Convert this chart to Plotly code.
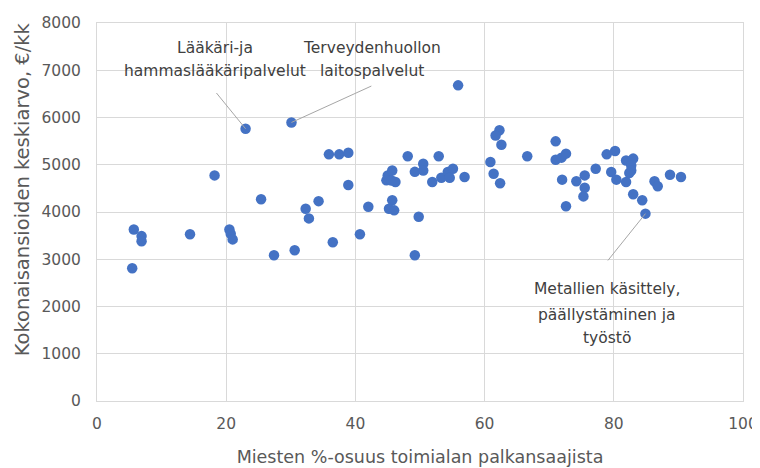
import plotly.graph_objects as go

# Miesten %-osuus toimialan palkansaajista
share_men = [5.7, 6.9, 6.9, 5.45, 14.4, 18.2, 20.5, 20.7, 21.0, 23.0,
             25.4, 27.4, 30.1, 30.6, 32.3, 32.8, 34.3, 35.9, 37.5, 38.9,
             36.5, 38.9, 40.7, 42.0, 45.0, 45.7, 44.8, 45.6, 46.2, 45.7,
             45.2, 46.0, 48.1, 49.2, 50.5, 50.5, 49.8, 49.2, 51.9, 52.9,
             53.3, 54.3, 55.1, 54.6, 56.9, 55.9, 62.3, 61.7, 62.6, 60.9,
             61.4, 62.4, 66.6, 71.0, 71.0, 71.9, 72.6, 72.0, 74.2, 75.5,
             75.5, 75.3, 72.6, 77.2, 78.9, 80.2, 79.6, 80.4, 81.9, 81.9,
             83.0, 82.7, 82.7, 82.4, 83.0, 84.4, 84.9, 86.3, 86.8, 88.7,
             90.4]
# Kokonaisansioiden keskiarvo, €/kk
earnings = [3630, 3490, 3380, 2810, 3530, 4775, 3630, 3540, 3420, 5762,
            4270, 3085, 5895, 3190, 4070, 3865, 4230, 5220, 5220, 5255,
            3360, 4570, 3530, 4110, 4775, 4880, 4670, 4665, 4635, 4250,
            4070, 4035, 5180, 4850, 5020, 4880, 3900, 3085, 4635, 5180,
            4725, 4845, 4915, 4725, 4740, 6680, 5730, 5620, 5425, 5060,
            4810, 4610, 5180, 5495, 5105, 5150, 5235, 4685, 4650, 4775,
            4515, 4330, 4120, 4915, 5220, 5290, 4845, 4685, 4635, 5090,
            5130, 4985, 4880, 4825, 4375, 4250, 3965, 4650, 4545, 4790,
            4740]

# Labelled industries
label_lines = [["Lääkäri-ja", "hammaslääkäripalvelut"],
               ["Terveydenhuollon", "laitospalvelut"],
               ["Metallien käsittely,", "päällystäminen ja", "työstö"]]
label_point_x = [23.0, 30.1, 84.9]
label_point_y = [5762, 5895, 3965]
leader_tail_x = [18.3, 42.7, 78.9]
leader_tail_y = [6550, 6680, 2943]
label_text_x = [18.3, 42.6, 78.9]
label_text_y = [[7480, 6990], [7480, 6990], [2360, 1830, 1340]]

x_ticks = [0, 20, 40, 60, 80, 100]
y_ticks = [0, 1000, 2000, 3000, 4000, 5000, 6000, 7000, 8000]

grid = "#d9d9d9"
txt = "#595959"

fig = go.Figure()
fig.add_trace(go.Scatter(
    x=share_men, y=earnings, mode="markers",
    marker=dict(color="#4472C4", size=10.5, line=dict(width=0)),
    hoverinfo="x+y", showlegend=False))

annotations = []
for i in range(len(label_lines)):
    annotations.append(dict(
        x=label_point_x[i], y=label_point_y[i], xref="x", yref="y",
        ax=leader_tail_x[i], ay=leader_tail_y[i], axref="x", ayref="y",
        text="", showarrow=True, arrowhead=0, arrowwidth=1,
        arrowcolor="#a6a6a6", standoff=0, startstandoff=0))
    for line, ly in zip(label_lines[i], label_text_y[i]):
        annotations.append(dict(
            x=label_text_x[i], y=ly, xref="x", yref="y", text=line,
            showarrow=False, xanchor="center", yanchor="middle",
            font=dict(family="DejaVu Sans", size=15.5, color="#404040")))

annotations.append(dict(
    x=0, y=0.56, xref="paper", yref="paper", xshift=-75,
    text="Kokonaisansioiden keskiarvo, €/kk", textangle=-90,
    showarrow=False, xanchor="center", yanchor="middle",
    font=dict(family="DejaVu Sans", size=19.5, color=txt)))

fig.update_layout(
    width=760, height=468,
    margin=dict(l=89, r=25, t=15, b=75, autoexpand=False),
    paper_bgcolor="white", plot_bgcolor="white",
    font=dict(family="DejaVu Sans", size=16, color=txt),
    annotations=annotations,
    xaxis=dict(range=[0, 100], tickvals=x_ticks, showgrid=True,
               gridcolor=grid, gridwidth=1, zeroline=False,
               showline=True, linecolor=grid, mirror=True,
               ticks="", ticklabelstandoff=8, automargin=False,
               tickfont=dict(family="DejaVu Sans", size=15.5, color=txt),
               title=dict(text="Miesten %-osuus toimialan palkansaajista",
                          font=dict(family="DejaVu Sans", size=17.5, color=txt),
                          standoff=19)),
    yaxis=dict(range=[0, 8000], tickvals=y_ticks, showgrid=True,
               gridcolor=grid, gridwidth=1, zeroline=False,
               showline=True, linecolor=grid, mirror=True,
               ticks="", ticklabelstandoff=12, automargin=False,
               tickfont=dict(family="DejaVu Sans", size=15.5, color=txt)),
)

fig.write_html("out.html")
